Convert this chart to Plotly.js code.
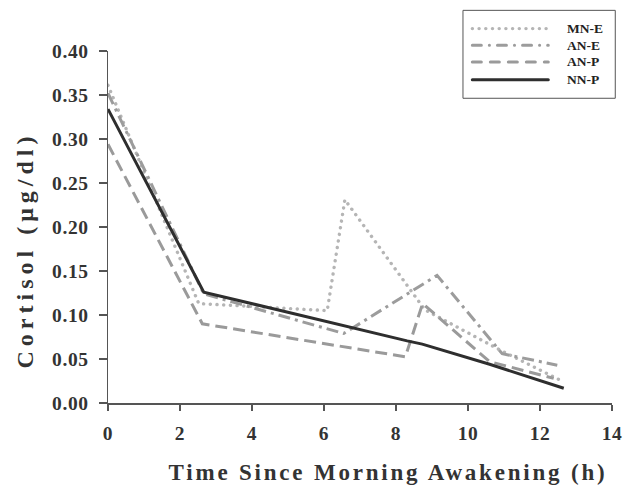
<!DOCTYPE html>
<html>
<head>
<meta charset="utf-8">
<script src="https://cdn.plot.ly/plotly-3.0.1.min.js"></script>
<style>
html,body{margin:0;padding:0;background:#fff;}
#chart{width:624px;height:485px;}
.xtitle{letter-spacing:2.8px;}
.ytitle{letter-spacing:5px;}
.g-xtitle{transform:translate(28px,-9px);}
.g-ytitle{transform:translate(-1px,23px);}
.xtick text,.ytick text{letter-spacing:0.6px;}
.scatterlayer .trace:first-child .js-line{stroke-linecap:round;}
.shapelayer path{stroke-linecap:round;}
</style>
</head>
<body>
<div id="chart"></div>
<script>
// Data
var seriesNames = ["MN-E", "AN-E", "AN-P", "NN-P"];
var mnE_x = [0, 2.52, 6.09, 6.58, 8.8, 10.9, 12.66];
var mnE_y = [0.361, 0.113, 0.105, 0.231, 0.106, 0.060, 0.024];
var anE_x = [0, 2.66, 6.55, 9.14, 10.95, 12.48];
var anE_y = [0.352, 0.124, 0.079, 0.145, 0.056, 0.043];
var anP_x = [0, 2.62, 8.26, 8.74, 10.6, 12.38];
var anP_y = [0.294, 0.090, 0.0525, 0.113, 0.047, 0.028];
var nnP_x = [0, 2.66, 8.31, 8.73, 10.6, 12.66];
var nnP_y = [0.334, 0.126, 0.0706, 0.0669, 0.044, 0.0167];
var xTickVals = [0, 2, 4, 6, 8, 10, 12, 14];
var yTickVals = [0, 0.05, 0.10, 0.15, 0.20, 0.25, 0.30, 0.35, 0.40];

var seriesColors = ["#b5b5b5", "#9c9c9c", "#9a9a9a", "#2e2e2e"];
var seriesWidths = [3.4, 3, 3, 3];
// trace dashes (butt caps, except the round-dotted first series)
var traceDashes = ["0.1px,6.6px", "12px,5px,3px,5px", "12px,6px", "solid"];
// key dashes (drawn with round caps)
var keyDashes = ["0.1px,6.6px", "9px,8px,0.1px,8px", "9px,9px", "solid"];
var xs = [mnE_x, anE_x, anP_x, nnP_x];
var ys = [mnE_y, anE_y, anP_y, nnP_y];

var traces = seriesNames.map(function (n, i) {
  return {x: xs[i], y: ys[i], name: n, mode: "lines", showlegend: false,
          line: {color: seriesColors[i], width: seriesWidths[i], dash: traceDashes[i]}};
});

// Boxed key in paper coordinates
var legBox = {x0: 0.7051, x1: 1.0065, y0: 0.8657, y1: 1.1155};
var legRowsY = [1.0636, 1.0162, 0.9688, 0.9183];
var legLineX = [0.7229, 0.8736];
var legTextX = 0.9073;
var shapes = [{type: "rect", xref: "paper", yref: "paper",
  x0: legBox.x0, x1: legBox.x1, y0: legBox.y0, y1: legBox.y1,
  line: {color: "#555", width: 1}, fillcolor: "rgba(255,255,255,0)", layer: "above"}];
var annotations = [];
seriesNames.forEach(function (n, i) {
  shapes.push({type: "line", xref: "paper", yref: "paper",
    x0: legLineX[0], x1: legLineX[1], y0: legRowsY[i], y1: legRowsY[i],
    line: {color: seriesColors[i], width: seriesWidths[i], dash: keyDashes[i]}, layer: "above"});
  annotations.push({xref: "paper", yref: "paper", x: legTextX, y: legRowsY[i],
    xanchor: "left", yanchor: "middle", showarrow: false, text: n,
    font: {family: "Liberation Serif", size: 13.5, color: "#222", weight: "bold"}});
});

var tickFont = {family: "Liberation Serif", size: 19.5, color: "#333", weight: "bold"};

var layout = {
  width: 624, height: 485,
  margin: {l: 107.5, r: 12.3, t: 50.7, b: 82},
  paper_bgcolor: "#fff", plot_bgcolor: "#fff",
  font: {family: "Liberation Serif", color: "#333"},
  showlegend: false,
  shapes: shapes,
  annotations: annotations,
  xaxis: {
    range: [0, 14], tickvals: xTickVals, ticktext: xTickVals.map(String),
    showgrid: false, zeroline: false, showline: true, linecolor: "#555", linewidth: 1.5,
    ticks: "outside", ticklen: 6, tickwidth: 1.5, tickcolor: "#555",
    tickfont: tickFont, ticklabelstandoff: 6,
    title: {text: "Time Since Morning Awakening (h)", standoff: 30,
            font: {family: "Liberation Serif", size: 23, color: "#333", weight: "bold"}},
    automargin: false, fixedrange: true
  },
  yaxis: {
    range: [0, 0.40], tickvals: yTickVals, tickformat: ".2f",
    showgrid: false, zeroline: false, showline: true, linecolor: "#555", linewidth: 1.5,
    ticks: "outside", ticklen: 8, tickwidth: 1.5, tickcolor: "#555",
    tickfont: tickFont, ticklabelstandoff: 6,
    title: {text: "Cortisol (μg/dl)", standoff: 10,
            font: {family: "Liberation Serif", size: 24, color: "#333", weight: "bold"}},
    automargin: false, fixedrange: true
  }
};

Plotly.newPlot("chart", traces, layout, {displayModeBar: false, staticPlot: true});
</script>
</body>
</html>
